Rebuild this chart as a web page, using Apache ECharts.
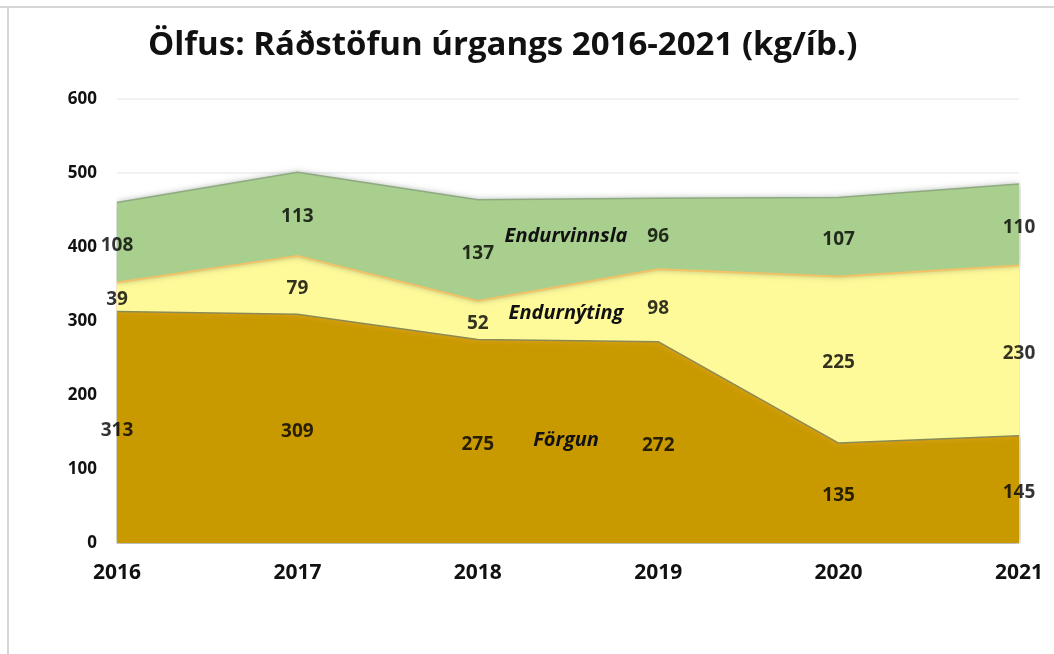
<!DOCTYPE html>
<html><head><meta charset="utf-8">
<script src="https://cdn.jsdelivr.net/npm/echarts@6/dist/echarts.min.js"></script>
<style>html,body{margin:0;padding:0;background:#fff}#c{width:1054px;height:654px}</style>
</head><body><div id="c"></div>
<script>
const years = ['2016','2017','2018','2019','2020','2021'];
const forgun = [313,309,275,272,135,145];
const endurnyting = [39,79,52,98,225,230];
const endurvinnsla = [108,113,137,96,107,110];
const seriesNames = ['Förgun','Endurnýting','Endurvinnsla'];
const FONT = '"Open Sans", "Liberation Sans", sans-serif';

const stacks = [forgun, endurnyting, endurvinnsla];
// label points: centre of each band
function labelData(k){
  return years.map((y,i)=>{
    let lo=0; for(let j=0;j<k;j++) lo+=stacks[j][i];
    return {value:[i, lo+stacks[k][i]/2], v:stacks[k][i]};
  });
}
const chart = echarts.init(document.getElementById('c'), null, {renderer:'canvas'});
const labelSeries = stacks.map((s,k)=>({type:'scatter',data:labelData(k),symbolSize:0,silent:true,z:10,
  label:{show:true,position:'inside',offset:[0,3],formatter:p=>String(p.data.v),color:'#000',
    textBorderWidth:0,fontFamily:FONT,fontWeight:'bold',fontSize:19}}));
chart.setOption({
  backgroundColor:'#fff',
  animation:false,
  title:{text:'Ölfus: Ráðstöfun úrgangs 2016-2021 (kg/íb.)',left:143,top:24,
    textStyle:{fontFamily:FONT,fontWeight:'bold',fontSize:33,color:'#111'}},
  grid:{left:117,right:35,top:99,bottom:111},
  xAxis:{type:'category',data:years,boundaryGap:false,
    axisLine:{show:true,lineStyle:{color:'#d9d9d9'}},axisTick:{show:false},
    axisLabel:{color:'#111',fontFamily:FONT,fontWeight:'bold',fontSize:21,margin:20}},
  yAxis:{type:'value',min:0,max:600,interval:100,
    splitLine:{lineStyle:{color:'#ececec',width:1.5}},
    axisLabel:{color:'#111',fontFamily:FONT,fontWeight:'bold',fontSize:17,margin:20}},
  series:[
    {name:seriesNames[0],type:'line',stack:'t',data:forgun,symbol:'none',
      lineStyle:{color:'#8a8a55',width:1.5},
      areaStyle:{color:'#C99A00',opacity:1,shadowColor:'rgba(80,80,60,0.6)',shadowBlur:6}},
    {name:seriesNames[1],type:'line',stack:'t',data:endurnyting,symbol:'none',
      lineStyle:{color:'#f2c266',width:2},
      areaStyle:{color:'#FFFA99',opacity:1,shadowColor:'rgba(240,170,60,0.7)',shadowBlur:6}},
    {name:seriesNames[2],type:'line',stack:'t',data:endurvinnsla,symbol:'none',
      lineStyle:{color:'#8faa80',width:1.5},
      areaStyle:{color:'#A8CF8E',opacity:1,shadowColor:'rgba(80,100,80,0.5)',shadowBlur:6}}
  ].concat(labelSeries)
});
// Series name labels between 2018 and 2019, anchored via the axes
const nameAnchors = [139, 311, 415];
const els = seriesNames.map((n,k)=>{
  const a = chart.convertToPixel({seriesIndex:0},[2, nameAnchors[k]]);
  const b = chart.convertToPixel({seriesIndex:0},[3, nameAnchors[k]]);
  return {type:'text',x:(a[0]+b[0])/2-2,y:a[1],z:100,
    style:{text:n,fill:'#111',font:'italic bold 20px '+FONT,textAlign:'center',textVerticalAlign:'middle'}};
});
els.push({type:'line',shape:{x1:0,y1:7,x2:1054,y2:7},style:{stroke:'#d6d6d6',lineWidth:2}});
els.push({type:'line',shape:{x1:8,y1:7,x2:8,y2:654},style:{stroke:'#d6d6d6',lineWidth:2}});
chart.setOption({graphic:{elements:els}});
</script></body></html>
